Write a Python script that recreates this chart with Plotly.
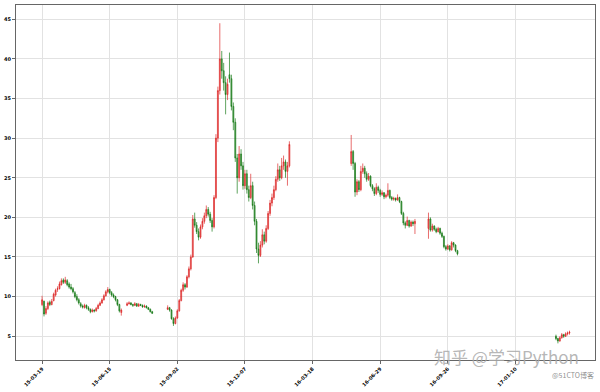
import plotly.graph_objects as go

# trading-day index segments (gaps = suspensions)
seg_start = [0, 44, 65, 160, 200, 266]
seg_len = [42, 14, 64, 34, 16, 8]

opens = [
    9.0, 9.4, 7.9, 8.5, 9.3, 9.0, 9.5, 10.2, 10.9, 11.0, 11.5, 12.1, 11.8, 12.0, 11.6, 11.2, 11.0, 10.5, 10.0, 9.6,
    9.1, 8.8, 8.6, 8.9, 8.6, 8.4, 8.1, 8.3, 8.2, 8.5, 8.9, 9.2, 9.6, 10.1, 10.6, 10.9, 10.5, 10.2, 10.0, 9.6,
    9.0, 8.0,
    8.9, 9.1, 9.2, 9.0, 8.9, 9.1, 8.8, 9.0, 8.9, 8.7, 8.8, 8.6, 8.4, 8.1,
    8.4, 8.6, 8.3, 7.2, 6.6, 7.3, 8.2, 9.5, 10.8, 11.5, 11.2, 12.5, 13.5, 15.0, 19.8, 19.0, 18.2, 17.5, 18.8, 19.5,
    20.2, 21.0, 20.4, 19.6, 18.8, 22.5, 30.0, 36.0, 40.0, 38.5, 37.0, 35.5, 38.0, 37.5, 34.0, 32.0, 27.5, 25.0, 28.0, 26.5,
    24.0, 25.5, 23.5, 22.5, 24.0, 21.5, 19.5, 16.0, 15.2, 16.5, 17.8, 17.0, 18.6, 20.5, 21.8, 22.5, 23.5, 24.8, 26.0, 25.0,
    26.5, 27.0, 25.8, 26.5,
    26.8, 28.3, 26.8, 23.2, 24.5, 23.5, 25.8, 26.2, 25.5, 24.8, 25.2, 24.0, 23.6, 23.0, 23.8, 23.4, 22.9, 23.1, 22.6, 22.8,
    23.4, 22.5, 22.3, 22.4, 22.2, 22.5, 22.0, 20.5, 19.3, 19.0, 19.6, 18.9, 19.4, 19.2,
    18.6, 19.8, 18.4, 18.9, 18.5, 18.2, 18.6, 18.0, 17.6, 16.3, 16.0, 16.4, 15.9, 16.8, 16.5, 15.8,
    5.0, 4.7, 4.4, 4.8, 5.2, 5.0, 5.3, 5.4,
]
highs = [
    10.1, 9.5, 8.8, 9.4, 9.5, 9.7, 10.5, 11.0, 11.3, 11.9, 12.3, 12.3, 12.5, 12.2, 11.8, 11.6, 11.2, 10.7, 10.3, 9.8,
    9.3, 9.0, 9.1, 9.0, 8.8, 8.5, 8.5, 8.4, 8.7, 9.1, 9.4, 9.8, 10.3, 10.8, 11.2, 11.0, 10.7, 10.4, 10.1, 9.7,
    9.1, 8.5,
    9.3, 9.4, 9.3, 9.1, 9.3, 9.2, 9.2, 9.1, 9.0, 9.0, 8.9, 8.7, 8.5, 8.2,
    8.9, 8.7, 8.4, 7.4, 7.5, 8.4, 9.7, 11.0, 11.8, 11.7, 12.7, 13.8, 15.3, 20.3, 20.6, 19.4, 18.6, 19.1, 19.9, 20.6,
    21.5, 21.3, 20.7, 19.9, 22.8, 30.5, 36.5, 44.5, 41.0, 39.5, 37.8, 37.5, 40.8, 38.0, 34.5, 32.5, 28.0, 29.0, 28.6, 27.0,
    26.0, 26.0, 24.0, 25.5, 24.5, 22.0, 19.8, 16.8, 17.0, 18.5, 18.2, 19.0, 20.8, 22.2, 23.0, 24.0, 25.2, 26.8, 26.5, 27.5,
    27.8, 27.3, 27.0, 29.6,
    30.4, 28.5, 27.0, 24.8, 24.7, 26.5, 26.8, 26.5, 25.8, 25.6, 25.3, 24.2, 23.8, 24.3, 24.0, 23.6, 23.4, 23.2, 23.0, 24.3,
    23.5, 22.7, 22.6, 22.5, 22.9, 22.6, 22.1, 20.7, 19.5, 20.1, 19.7, 19.6, 19.6, 19.8,
    20.6, 20.0, 19.2, 19.0, 18.7, 18.8, 18.7, 18.2, 17.7, 16.5, 16.6, 16.5, 17.0, 16.9, 16.6, 15.9,
    5.2, 4.8, 5.0, 5.4, 5.3, 5.5, 5.6, 5.7,
]
lows = [
    8.8, 7.5, 7.7, 8.3, 8.8, 8.9, 9.4, 10.0, 10.6, 10.9, 11.4, 11.6, 11.6, 11.3, 11.0, 10.8, 10.4, 9.8, 9.4, 9.0,
    8.6, 8.5, 8.5, 8.4, 8.2, 7.9, 8.0, 8.0, 8.1, 8.4, 8.8, 9.1, 9.5, 10.0, 10.4, 10.3, 10.0, 9.8, 9.4, 8.8,
    8.0, 7.6,
    8.8, 9.0, 8.9, 8.7, 8.8, 8.7, 8.7, 8.8, 8.6, 8.6, 8.5, 8.3, 8.0, 7.8,
    8.3, 8.1, 7.1, 6.3, 6.5, 7.2, 8.1, 9.4, 10.6, 10.9, 11.1, 12.3, 13.3, 14.9, 18.7, 17.9, 17.1, 17.3, 18.5, 19.2,
    19.9, 20.1, 19.3, 18.2, 18.6, 22.3, 29.5, 35.5, 37.5, 36.0, 33.0, 34.8, 37.0, 33.5, 31.0, 27.0, 23.0, 24.5, 26.0, 23.5,
    23.6, 23.0, 22.0, 22.3, 21.0, 19.0, 15.5, 14.2, 15.0, 16.2, 16.6, 16.8, 18.4, 20.2, 21.4, 22.2, 23.3, 24.5, 24.6, 24.8,
    26.0, 25.0, 24.0, 26.3,
    26.5, 26.0, 22.6, 22.8, 23.2, 23.3, 25.5, 25.0, 24.5, 24.6, 23.8, 23.3, 22.7, 22.8, 23.1, 22.6, 22.7, 22.3, 22.4, 22.6,
    22.3, 22.1, 22.1, 22.0, 22.1, 21.8, 20.3, 19.0, 18.6, 18.9, 18.7, 18.8, 18.9, 17.9,
    17.3, 18.2, 18.2, 18.3, 18.0, 18.1, 17.8, 17.4, 16.1, 15.8, 15.9, 15.7, 15.8, 16.2, 15.6, 15.2,
    4.5, 4.1, 4.3, 4.7, 4.8, 4.9, 5.1, 5.2,
]
closes = [
    9.6, 7.8, 8.5, 9.2, 9.0, 9.4, 10.3, 10.8, 11.0, 11.6, 12.0, 11.8, 12.1, 11.5, 11.2, 11.0, 10.6, 10.0, 9.6, 9.2,
    8.8, 8.7, 8.9, 8.6, 8.4, 8.1, 8.3, 8.2, 8.5, 8.9, 9.2, 9.6, 10.1, 10.6, 10.9, 10.5, 10.2, 10.0, 9.6, 9.0,
    8.2, 8.3,
    9.1, 9.2, 9.0, 8.9, 9.1, 8.8, 9.0, 8.9, 8.7, 8.8, 8.6, 8.4, 8.1, 7.9,
    8.6, 8.3, 7.2, 6.6, 7.3, 8.2, 9.5, 10.8, 11.5, 11.2, 12.5, 13.5, 15.0, 19.8, 19.0, 18.2, 17.5, 18.8, 19.5, 20.2,
    21.0, 20.4, 19.6, 18.8, 22.5, 30.0, 36.0, 40.0, 38.5, 37.0, 35.5, 36.8, 37.5, 34.0, 32.0, 27.5, 25.0, 28.0, 26.5, 24.0,
    25.5, 23.5, 22.5, 24.0, 21.5, 19.5, 16.0, 15.2, 16.5, 17.8, 17.0, 18.6, 20.5, 21.8, 22.5, 23.5, 24.8, 26.0, 25.0, 26.5,
    27.0, 25.8, 26.5, 29.2,
    28.3, 26.8, 23.2, 24.5, 23.5, 25.8, 26.2, 25.5, 24.8, 25.2, 24.0, 23.6, 23.0, 23.8, 23.4, 22.9, 23.1, 22.6, 22.8, 23.4,
    22.5, 22.3, 22.4, 22.2, 22.5, 22.0, 20.5, 19.3, 19.0, 19.6, 18.9, 19.4, 19.2, 19.5,
    19.8, 18.4, 18.9, 18.5, 18.2, 18.6, 18.0, 17.6, 16.3, 16.0, 16.4, 15.9, 16.8, 16.5, 15.8, 15.4,
    4.7, 4.4, 4.8, 5.2, 5.0, 5.3, 5.4, 5.5,
]

tick_pos = [0, 35, 70, 105, 140, 175, 210, 245]
tick_labels = ["15-03-19", "15-06-15", "15-09-02", "15-12-07",
               "16-03-18", "16-06-29", "16-09-26", "17-01-10"]
y_ticks = [5, 10, 15, 20, 25, 30, 35, 40, 45]

days = []
for s, n in zip(seg_start, seg_len):
    days.extend(range(s, s + n))

fig = go.Figure(go.Candlestick(
    x=days, open=opens, high=highs, low=lows, close=closes,
    increasing=dict(line=dict(color="rgba(220,30,30,0.65)", width=1), fillcolor="rgba(220,30,30,0.65)"),
    decreasing=dict(line=dict(color="rgba(10,115,10,0.65)", width=1), fillcolor="rgba(10,115,10,0.65)"),
    whiskerwidth=0, showlegend=False, hoverinfo="skip",
))

axis_font = dict(family="DejaVu Sans", size=5, color="#000000", weight="bold")
fig.update_layout(
    width=600, height=392,
    margin=dict(l=12, r=4, t=4, b=23),
    paper_bgcolor="white", plot_bgcolor="white",
    xaxis=dict(
        range=[-13.5, 286.2], tickmode="array", tickvals=tick_pos, ticktext=tick_labels,
        tickangle=-45, tickfont=axis_font, showgrid=True, gridcolor="#e2e2e2", gridwidth=1,
        showline=True, linecolor="#666666", linewidth=1, mirror=True,
        ticks="outside", ticklen=3, tickcolor="#666666", zeroline=False,
        rangeslider=dict(visible=False),
    ),
    yaxis=dict(
        range=[2.0, 46.8], tickmode="array", tickvals=y_ticks,
        tickfont=axis_font, showgrid=True, gridcolor="#e2e2e2", gridwidth=1,
        showline=True, linecolor="#666666", linewidth=1, mirror=True,
        ticks="outside", ticklen=3, tickcolor="#666666", zeroline=False,
    ),
    annotations=[
        dict(text="知乎 @学习Python", xref="paper", yref="paper", x=0.848, y=0.011,
             xanchor="center", yanchor="middle", showarrow=False,
             font=dict(family="Noto Sans CJK SC", size=17, color="rgba(170,170,170,0.85)")),
        dict(text="@51CTO博客", xref="paper", yref="paper", x=0.962, y=-0.041,
             xanchor="center", yanchor="middle", showarrow=False,
             font=dict(family="Noto Sans CJK SC", size=7, color="rgba(130,130,130,0.9)")),
    ],
)

fig.write_html("out.html")
